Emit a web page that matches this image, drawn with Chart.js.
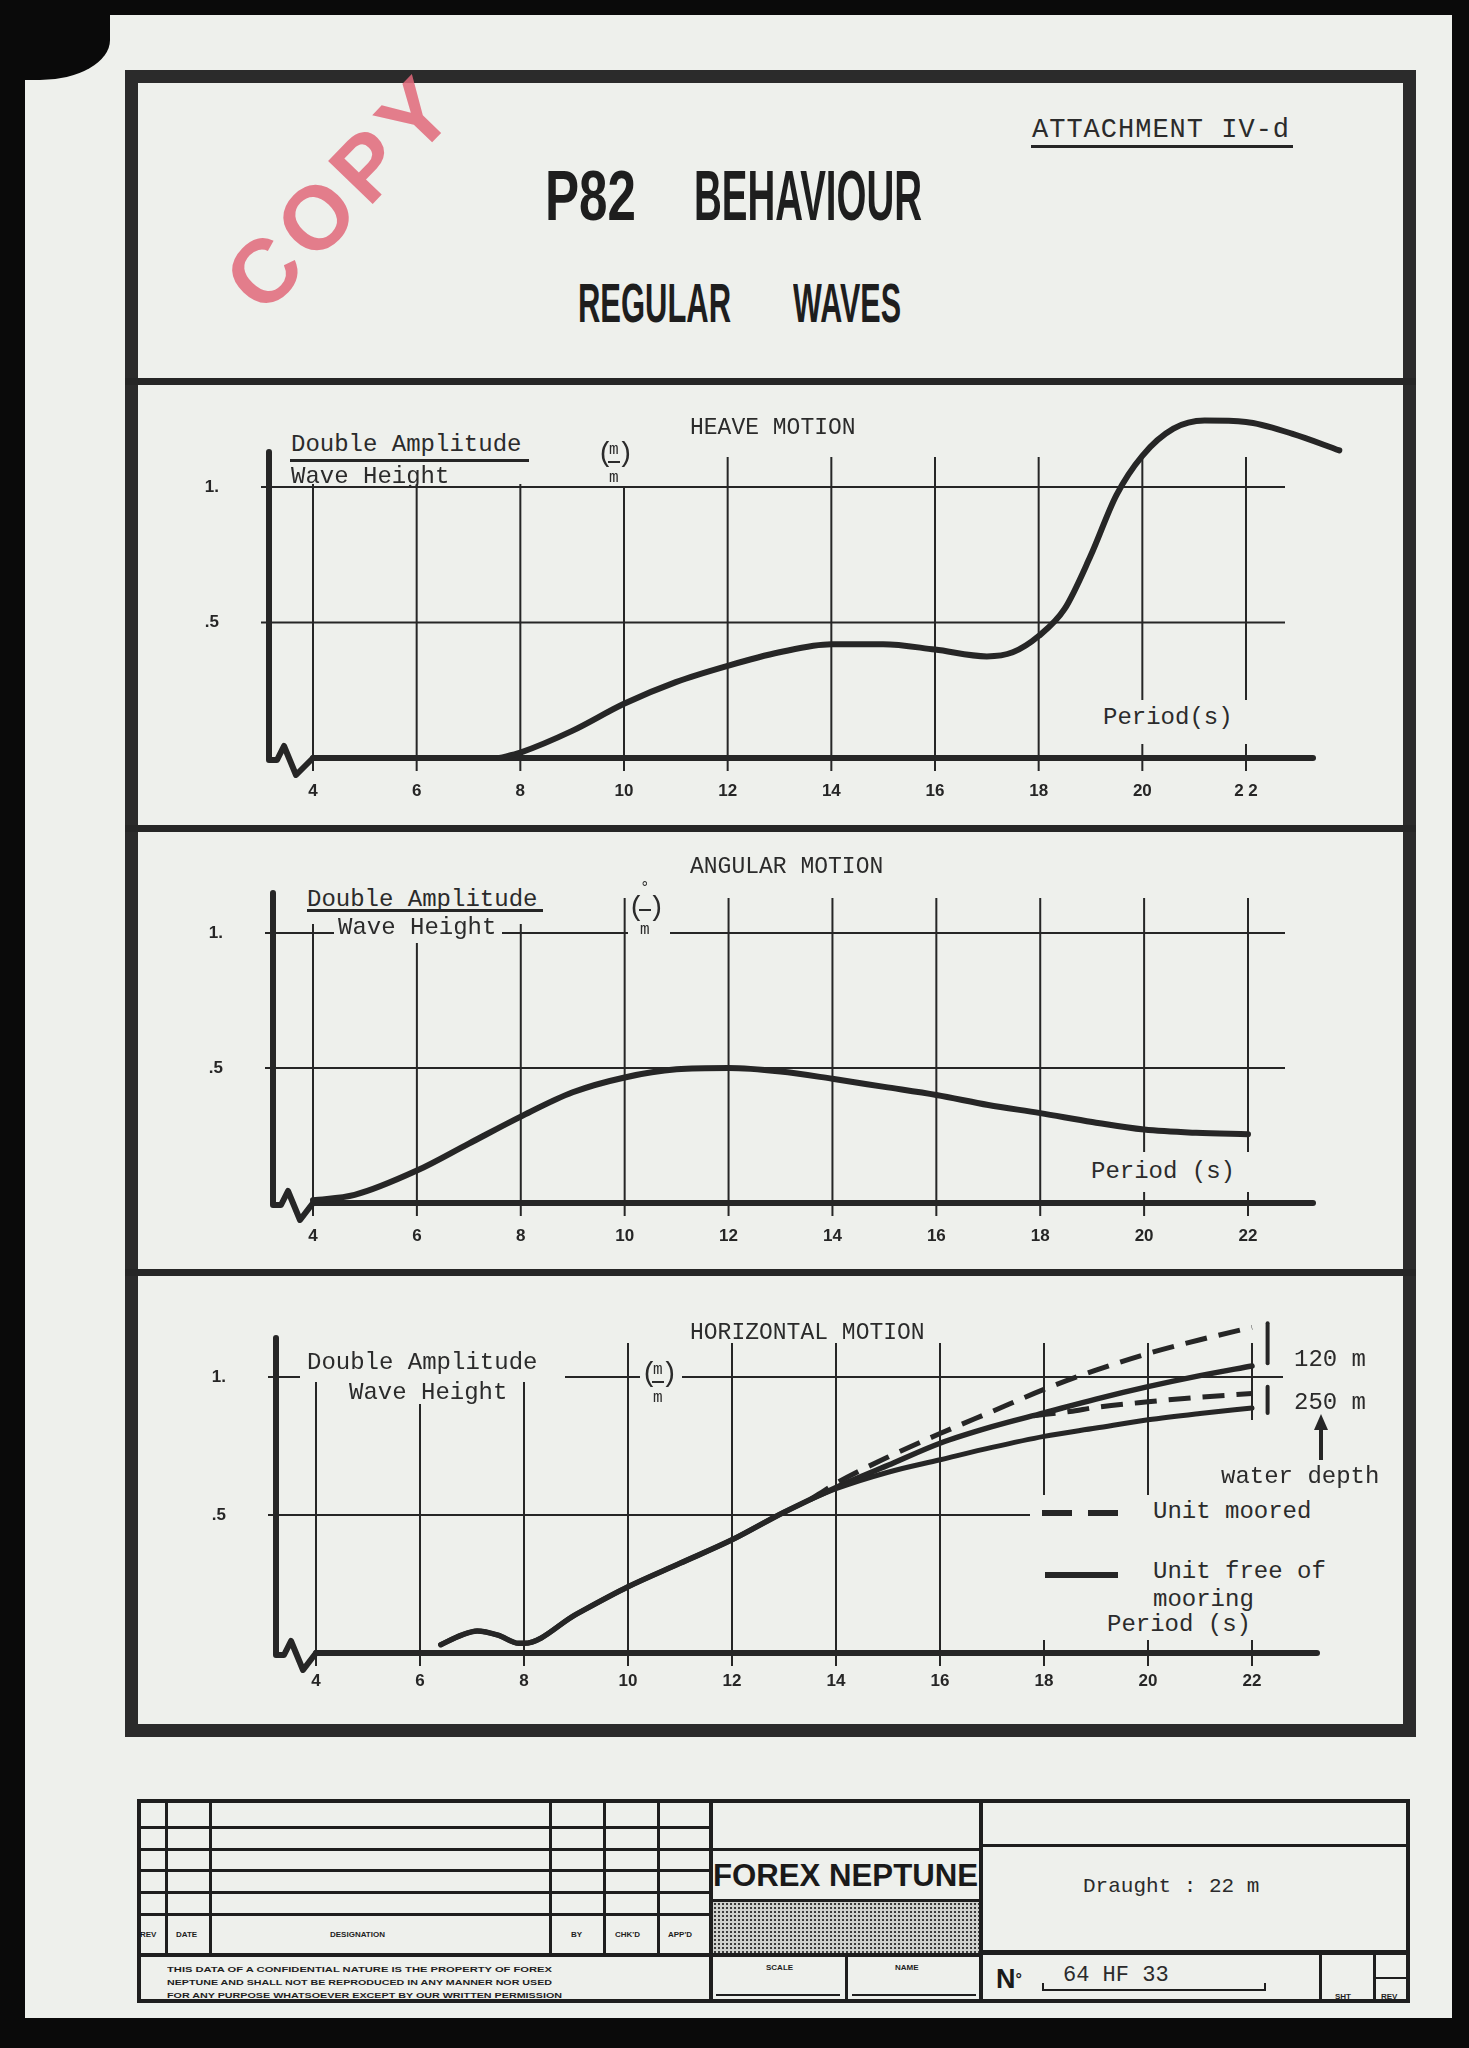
<!DOCTYPE html>
<html>
<head>
<meta charset="utf-8">
<script src="https://cdn.jsdelivr.net/npm/chart.js@4.4.1/dist/chart.umd.min.js"></script>
<style>
  body { margin: 0; width: 1469px; height: 2048px; background: #0a0a0a; overflow: hidden; position: relative; }
  .abs { position: absolute; }
  .paper { background: #eef0ec; }
  .ink { background: #262626; }
  .t { position: absolute; font-family: 'Liberation Mono', 'DejaVu Sans Mono', monospace; font-size: 24px; line-height: 24px; color: #2b2b2b; white-space: nowrap; }
  .box { position: absolute; background: #eef0ec; }
  .tiny { position: absolute; font-family: 'Liberation Sans', Arial, sans-serif; font-weight: bold; font-size: 8px; line-height: 8px; color: #1e1e1e; white-space: nowrap; transform-origin: left top; }
  .chartbox { position: absolute; }
  .frac { position: absolute; width: 44px; height: 52px; font-family: 'Liberation Mono', monospace; color: #2b2b2b; }
  .frac span { position: absolute; white-space: nowrap; }
  .frac .p { font-size: 28px; line-height: 30px; }
  .frac .s { font-size: 16px; line-height: 16px; }
  .frac .bar { height: 2px; width: 12px; background: #2b2b2b; }
  .tb { position: absolute; background: #1e1e1e; }
</style>
</head>
<body>
<div class="abs paper" style="left:25px;top:15px;width:1427px;height:2003px;"></div>
<div class="abs" style="left:18px;top:0px;width:92px;height:80px;background:#0a0a0a;border-bottom-right-radius:70px 40px;"></div>

<!-- outer frame and dividers -->
<div class="abs" style="left:125px;top:70px;width:1291px;height:1667px;border:13px solid #2b2b2b;box-sizing:border-box;"></div>
<div class="abs ink" style="left:125px;top:378px;width:1291px;height:7px;"></div>
<div class="abs ink" style="left:125px;top:825px;width:1291px;height:7px;"></div>
<div class="abs ink" style="left:125px;top:1269px;width:1291px;height:7px;"></div>

<!-- header -->
<div id="stamp" class="abs" style="left:341px;top:192px;font-family:'Liberation Sans',Arial,sans-serif;font-weight:bold;font-size:90px;line-height:90px;letter-spacing:8px;color:#e2697b;opacity:0.85;transform:translate(-50%,-50%) rotate(-46deg);white-space:nowrap;">COPY</div>
<div class="t" style="left:1032px;top:117px;font-size:27px;line-height:27px;letter-spacing:1px;">ATTACHMENT IV-d</div>
<div class="abs ink" style="left:1031px;top:145px;width:262px;height:3px;"></div>
<div class="abs fit" data-w="91" style="left:545px;top:161px;font-family:'Liberation Sans',Arial,sans-serif;font-weight:bold;font-size:70px;line-height:70px;color:#1e1e1e;white-space:nowrap;transform-origin:left top;">P82</div>
<div class="abs fit" data-w="228" style="left:694px;top:161px;font-family:'Liberation Sans',Arial,sans-serif;font-weight:bold;font-size:70px;line-height:70px;color:#1e1e1e;white-space:nowrap;transform-origin:left top;">BEHAVIOUR</div>
<div class="abs fit" data-w="153" style="left:578px;top:275px;font-family:'Liberation Sans',Arial,sans-serif;font-weight:bold;font-size:56px;line-height:56px;color:#1e1e1e;white-space:nowrap;transform-origin:left top;">REGULAR</div>
<div class="abs fit" data-w="108" style="left:793px;top:275px;font-family:'Liberation Sans',Arial,sans-serif;font-weight:bold;font-size:56px;line-height:56px;color:#1e1e1e;white-space:nowrap;transform-origin:left top;">WAVES</div>

<!-- charts -->
<div class="chartbox" style="left:140px;top:390px;width:1260px;height:430px;"><canvas id="heave"></canvas></div>
<div class="chartbox" style="left:140px;top:835px;width:1260px;height:430px;"><canvas id="angular"></canvas></div>
<div class="chartbox" style="left:140px;top:1280px;width:1260px;height:440px;"><canvas id="horizontal"></canvas></div>

<!-- heave labels -->
<div class="box" style="left:285px;top:426px;width:248px;height:58px;"></div>
<div class="box" style="left:598px;top:440px;width:44px;height:46px;"></div>
<div class="box" style="left:1088px;top:700px;width:165px;height:44px;"></div>
<div class="t" style="left:690px;top:416px;font-size:23px;">HEAVE MOTION</div>
<div class="t" style="left:291px;top:433px;">Double Amplitude</div>
<div class="abs ink" style="left:290px;top:459px;width:239px;height:3px;"></div>
<div class="t" style="left:291px;top:465px;">Wave Height</div>
<div class="frac" style="left:597px;top:439px;">
  <span class="p" style="left:0;top:0;">(</span><span class="s" style="left:12px;top:3px;">m</span><span class="bar" style="left:11px;top:22px;"></span><span class="p" style="left:20px;top:0;">)</span><span class="s" style="left:12px;top:31px;">m</span>
</div>
<div class="t" style="left:1103px;top:706px;">Period(s)</div>

<!-- angular labels -->
<div class="box" style="left:300px;top:884px;width:250px;height:40px;"></div>
<div class="box" style="left:334px;top:918px;width:168px;height:25px;"></div>
<div class="box" style="left:628px;top:882px;width:42px;height:55px;"></div>
<div class="box" style="left:1085px;top:1152px;width:170px;height:40px;"></div>
<div class="t" style="left:690px;top:855px;font-size:23px;">ANGULAR MOTION</div>
<div class="t" style="left:307px;top:888px;">Double Amplitude</div>
<div class="abs ink" style="left:307px;top:909px;width:236px;height:3px;"></div>
<div class="t" style="left:338px;top:916px;">Wave Height</div>
<div class="frac" style="left:628px;top:882px;">
  <span class="s" style="left:12px;top:-2px;">°</span><span class="p" style="left:0;top:11px;">(</span><span class="bar" style="left:11px;top:27px;"></span><span class="p" style="left:20px;top:11px;">)</span><span class="s" style="left:12px;top:40px;">m</span>
</div>
<div class="t" style="left:1091px;top:1160px;">Period (s)</div>

<!-- horizontal labels -->
<div class="box" style="left:300px;top:1343px;width:265px;height:39px;"></div>
<div class="box" style="left:345px;top:1382px;width:175px;height:22px;"></div>
<div class="box" style="left:640px;top:1358px;width:42px;height:45px;"></div>
<div class="box" style="left:1200px;top:1420px;width:195px;height:75px;"></div>
<div class="box" style="left:1030px;top:1495px;width:365px;height:145px;"></div>
<div class="t" style="left:690px;top:1321px;font-size:23px;">HORIZONTAL MOTION</div>
<div class="t" style="left:307px;top:1351px;">Double Amplitude</div>
<div class="t" style="left:349px;top:1381px;">Wave Height</div>
<div class="frac" style="left:641px;top:1359px;">
  <span class="p" style="left:0;top:0;">(</span><span class="s" style="left:12px;top:3px;">m</span><span class="bar" style="left:11px;top:22px;"></span><span class="p" style="left:20px;top:0;">)</span><span class="s" style="left:12px;top:31px;">m</span>
</div>
<div class="t" style="left:1294px;top:1348px;">120 m</div>
<div class="t" style="left:1294px;top:1391px;">250 m</div>
<div class="abs ink" style="left:1319px;top:1428px;width:4px;height:32px;"></div>
<div class="abs" style="left:1314px;top:1414px;width:0;height:0;border-left:7px solid transparent;border-right:7px solid transparent;border-bottom:16px solid #262626;"></div>
<div class="t" style="left:1221px;top:1465px;">water depth</div>
<div class="abs ink" style="left:1042px;top:1510px;width:30px;height:6px;"></div>
<div class="abs ink" style="left:1088px;top:1510px;width:30px;height:6px;"></div>
<div class="t" style="left:1153px;top:1500px;">Unit moored</div>
<div class="abs ink" style="left:1045px;top:1572px;width:73px;height:6px;"></div>
<div class="t" style="left:1153px;top:1560px;">Unit free of</div>
<div class="t" style="left:1153px;top:1588px;">mooring</div>
<div class="t" style="left:1107px;top:1613px;">Period (s)</div>

<!-- title block -->
<div class="abs" style="left:137px;top:1799px;width:1273px;height:204px;border:4px solid #1e1e1e;box-sizing:border-box;"></div>
<div class="tb" style="left:165px;top:1799px;width:3px;height:156px;"></div>
<div class="tb" style="left:209px;top:1799px;width:3px;height:156px;"></div>
<div class="tb" style="left:549px;top:1799px;width:3px;height:156px;"></div>
<div class="tb" style="left:603px;top:1799px;width:3px;height:156px;"></div>
<div class="tb" style="left:657px;top:1799px;width:3px;height:156px;"></div>
<div class="tb" style="left:709px;top:1799px;width:4px;height:204px;"></div>
<div class="tb" style="left:979px;top:1799px;width:4px;height:204px;"></div>
<div class="tb" style="left:137px;top:1826px;width:574px;height:3px;"></div>
<div class="tb" style="left:137px;top:1848px;width:574px;height:3px;"></div>
<div class="tb" style="left:137px;top:1869px;width:574px;height:3px;"></div>
<div class="tb" style="left:137px;top:1891px;width:574px;height:3px;"></div>
<div class="tb" style="left:137px;top:1913px;width:574px;height:3px;"></div>
<div class="tb" style="left:137px;top:1953px;width:846px;height:4px;"></div>
<div class="tb" style="left:711px;top:1848px;width:270px;height:3px;"></div>
<div class="tb" style="left:711px;top:1899px;width:270px;height:3px;"></div>
<div class="abs" style="left:713px;top:1902px;width:266px;height:51px;background-color:#cfd1cd;background-image:radial-gradient(#3a3a3a 0.9px, transparent 1.3px);background-size:4px 4px;"></div>
<div class="tb" style="left:845px;top:1955px;width:3px;height:48px;"></div>
<div class="tb" style="left:981px;top:1844px;width:429px;height:3px;"></div>
<div class="tb" style="left:981px;top:1950px;width:429px;height:5px;"></div>
<div class="tb" style="left:1319px;top:1952px;width:3px;height:51px;"></div>
<div class="tb" style="left:1373px;top:1952px;width:3px;height:51px;"></div>
<div class="tb" style="left:1375px;top:1977px;width:35px;height:2px;"></div>

<div class="tiny" style="left:140px;top:1931px;">REV</div>
<div class="tiny" style="left:176px;top:1931px;">DATE</div>
<div class="tiny" style="left:330px;top:1931px;">DESIGNATION</div>
<div class="tiny" style="left:571px;top:1931px;">BY</div>
<div class="tiny" style="left:615px;top:1931px;">CHK'D</div>
<div class="tiny" style="left:668px;top:1931px;">APP'D</div>
<div class="tiny fit" data-w="385" style="left:167px;top:1966px;">THIS DATA OF A CONFIDENTIAL NATURE IS THE PROPERTY OF FOREX</div>
<div class="tiny fit" data-w="385" style="left:167px;top:1979px;">NEPTUNE AND SHALL NOT BE REPRODUCED IN ANY MANNER NOR USED</div>
<div class="tiny fit" data-w="395" style="left:167px;top:1992px;">FOR ANY PURPOSE WHATSOEVER EXCEPT BY OUR WRITTEN PERMISSION</div>
<div class="tiny" style="left:766px;top:1964px;">SCALE</div>
<div class="tiny" style="left:895px;top:1964px;">NAME</div>
<div class="tb" style="left:716px;top:1994px;width:124px;height:2px;"></div>
<div class="tb" style="left:852px;top:1994px;width:124px;height:2px;"></div>
<div class="tiny" style="left:1335px;top:1993px;">SHT</div>
<div class="tiny" style="left:1381px;top:1993px;">REV</div>

<div class="abs fit" data-w="265" style="left:713px;top:1859px;font-family:'Liberation Sans',Arial,sans-serif;font-weight:bold;font-size:32px;line-height:32px;color:#1a1a1a;white-space:nowrap;transform-origin:left top;">FOREX NEPTUNE</div>
<div class="t" style="left:1083px;top:1876px;font-size:21px;line-height:21px;">Draught : 22 m</div>
<div class="abs" style="left:996px;top:1966px;font-family:'Liberation Sans',Arial,sans-serif;font-weight:bold;font-size:27px;line-height:27px;color:#1a1a1a;">N<span style="font-size:16px;vertical-align:top;">°</span></div>
<div class="t" style="left:1063px;top:1965px;font-size:22px;line-height:22px;">64 HF 33</div>
<div class="tb" style="left:1042px;top:1989px;width:224px;height:2px;"></div>
<div class="tb" style="left:1042px;top:1983px;width:2px;height:8px;"></div>
<div class="tb" style="left:1264px;top:1983px;width:2px;height:8px;"></div>

<script>
var periodTicks = [4, 6, 8, 10, 12, 14, 16, 18, 20, 22];
var ratioTicks = [0.5, 1];

var heavePeriod = [7.6, 8, 9, 10, 11, 12, 13, 14, 15, 16, 17, 17.5, 18, 18.5, 19, 19.5, 20, 20.6, 21.2, 22, 22.9, 23.8];
var heaveRatio = [0, 0.02, 0.10, 0.20, 0.28, 0.34, 0.39, 0.42, 0.42, 0.40, 0.375, 0.39, 0.45, 0.55, 0.745, 0.97, 1.115, 1.215, 1.245, 1.24, 1.196, 1.135];

var angularPeriod = [4, 4.8, 6, 7, 8, 9, 10, 11, 12, 13, 14, 15, 16, 17, 18, 19, 20, 21, 22];
var angularRatio = [0.01, 0.03, 0.12, 0.22, 0.32, 0.41, 0.465, 0.495, 0.50, 0.487, 0.46, 0.43, 0.40, 0.363, 0.333, 0.30, 0.272, 0.26, 0.255];

var horizPeriod = [6.4, 6.8, 7.1, 7.5, 7.9, 8, 9, 10, 11, 12, 13, 14, 15, 16, 17, 18, 19, 20, 21, 22];
var freeRatio120 = [0.03, 0.065, 0.08, 0.065, 0.035, 0.035, 0.14, 0.24, 0.325, 0.41, 0.51, 0.60, 0.68, 0.76, 0.82, 0.87, 0.92, 0.965, 1.005, 1.04];
var freeRatio250 = [0.03, 0.065, 0.08, 0.065, 0.035, 0.035, 0.14, 0.24, 0.325, 0.41, 0.51, 0.595, 0.655, 0.70, 0.745, 0.785, 0.815, 0.845, 0.868, 0.888];
var mooredPeriod120 = [13.5, 14, 15, 16, 17, 18, 19, 20, 21, 22];
var mooredRatio120 = [0.555, 0.615, 0.71, 0.795, 0.875, 0.955, 1.025, 1.085, 1.135, 1.18];
var mooredPeriod250 = [17.8, 18.5, 19, 20, 21, 22];
var mooredRatio250 = [0.86, 0.875, 0.89, 0.91, 0.927, 0.94];
var depthMarkPeriod = [22.3, 22.3];
var depthMark120 = [1.195, 1.05];
var depthMark250 = [0.965, 0.87];

var ink = '#262626';
var tickFont = { family: "'Liberation Sans', Arial, sans-serif", size: 17, weight: 'bold' };

// fit condensed texts to their measured widths
document.querySelectorAll('.fit').forEach(function (el) {
  var w = el.getBoundingClientRect().width;
  el.style.transform = 'scaleX(' + (el.dataset.w / w) + ')';
});

function pts(xs, ys) {
  return xs.map(function (x, i) { return { x: x, y: ys[i] }; });
}

function curve(xs, ys, dashed, width) {
  return {
    data: pts(xs, ys),
    borderColor: ink,
    borderWidth: width || 6,
    borderDash: dashed ? [22, 12] : [],
    pointRadius: 0,
    fill: false,
    cubicInterpolationMode: 'monotone',
    borderCapStyle: dashed ? 'butt' : 'round',
    borderJoinStyle: 'round',
    clip: false
  };
}

// grid, base line and broken y axis drawn like the paper chart
var paperAxes = {
  id: 'paperAxes',
  beforeDatasetsDraw: function (chart, args, opts) {
    var c = chart.ctx, a = chart.chartArea, xs = chart.scales.x, ys = chart.scales.y;
    var base = ys.getPixelForValue(0), x4 = xs.getPixelForValue(periodTicks[0]);
    function seg(x1, y1, x2, y2) { c.beginPath(); c.moveTo(x1, y1); c.lineTo(x2, y2); c.stroke(); }
    c.save();
    c.strokeStyle = ink;
    c.lineWidth = 2;
    periodTicks.forEach(function (p) {
      var x = xs.getPixelForValue(p);
      seg(x, a.top, x, base + 13);
    });
    ratioTicks.forEach(function (r) {
      var y = ys.getPixelForValue(r);
      seg(a.left - 8, y, xs.getPixelForValue(opts.hEnd), y);
    });
    c.lineWidth = 6;
    c.lineJoin = 'round';
    c.lineCap = 'round';
    seg(x4, base, a.right, base);
    c.beginPath();
    c.moveTo(a.left, a.top - 5);
    c.lineTo(a.left, base + 2);
    c.lineTo(a.left + 8, base + 2);
    c.lineTo(a.left + 15, base - 12);
    c.lineTo(a.left + 27, base + 17);
    c.lineTo(x4, base);
    c.stroke();
    c.restore();
  }
};

function makeChart(id, cfg, datasets) {
  var kx = (cfg.x22 - cfg.x4) / 18, ky = cfg.y0 - cfg.y1;
  var ctx = document.getElementById(id).getContext('2d');
  return new Chart(ctx, {
    type: 'line',
    data: { datasets: datasets },
    options: {
      responsive: true,
      maintainAspectRatio: false,
      animation: false,
      events: [],
      layout: {
        padding: {
          left: cfg.axisX - cfg.left - 100,
          right: cfg.left + cfg.width - cfg.baseEnd,
          top: cfg.topY - cfg.top,
          bottom: cfg.top + cfg.height - cfg.y0 - 40
        }
      },
      plugins: {
        legend: { display: false },
        tooltip: { enabled: false },
        paperAxes: { hEnd: 4 + (cfg.hEnd - cfg.x4) / kx }
      },
      scales: {
        x: {
          type: 'linear',
          min: 4 - (cfg.x4 - cfg.axisX) / kx,
          max: 4 + (cfg.baseEnd - cfg.x4) / kx,
          grid: { display: false, drawTicks: false },
          border: { display: false },
          afterBuildTicks: function (s) { s.ticks = periodTicks.map(function (v) { return { value: v }; }); },
          afterFit: function (s) { s.height = 40; },
          ticks: {
            autoSkip: false, maxRotation: 0, padding: cfg.tickPad, color: ink, font: tickFont,
            callback: function (v) { return (cfg.spaced22 && v === 22) ? '2 2' : String(v); }
          }
        },
        y: {
          type: 'linear',
          min: 0,
          max: (cfg.y0 - cfg.topY) / ky,
          grid: { display: false, drawTicks: false },
          border: { display: false },
          afterBuildTicks: function (s) { s.ticks = ratioTicks.map(function (v) { return { value: v }; }); },
          afterFit: function (s) { s.width = 100; },
          ticks: {
            padding: 50, color: ink, font: tickFont,
            callback: function (v) { return v === 1 ? '1.' : '.5'; }
          }
        }
      }
    },
    plugins: [paperAxes]
  });
}

makeChart('heave',
  { left: 140, top: 390, width: 1260, height: 430, axisX: 269, baseEnd: 1313, hEnd: 1285,
    x4: 313, x22: 1246, y0: 758, y1: 487, topY: 457, tickPad: 23, spaced22: true },
  [curve(heavePeriod, heaveRatio)]);

makeChart('angular',
  { left: 140, top: 835, width: 1260, height: 430, axisX: 273, baseEnd: 1313, hEnd: 1285,
    x4: 313, x22: 1248, y0: 1203, y1: 933, topY: 898, tickPad: 23 },
  [curve(angularPeriod, angularRatio)]);

makeChart('horizontal',
  { left: 140, top: 1280, width: 1260, height: 440, axisX: 276, baseEnd: 1317, hEnd: 1283,
    x4: 316, x22: 1252, y0: 1653, y1: 1377, topY: 1343, tickPad: 18 },
  [
    curve(horizPeriod, freeRatio250, false, 5),
    curve(horizPeriod, freeRatio120, false, 5.5),
    curve(mooredPeriod120, mooredRatio120, true, 5),
    curve(mooredPeriod250, mooredRatio250, true, 5),
    curve(depthMarkPeriod, depthMark120, false, 4),
    curve(depthMarkPeriod, depthMark250, false, 4)
  ]);
</script>
</body>
</html>
